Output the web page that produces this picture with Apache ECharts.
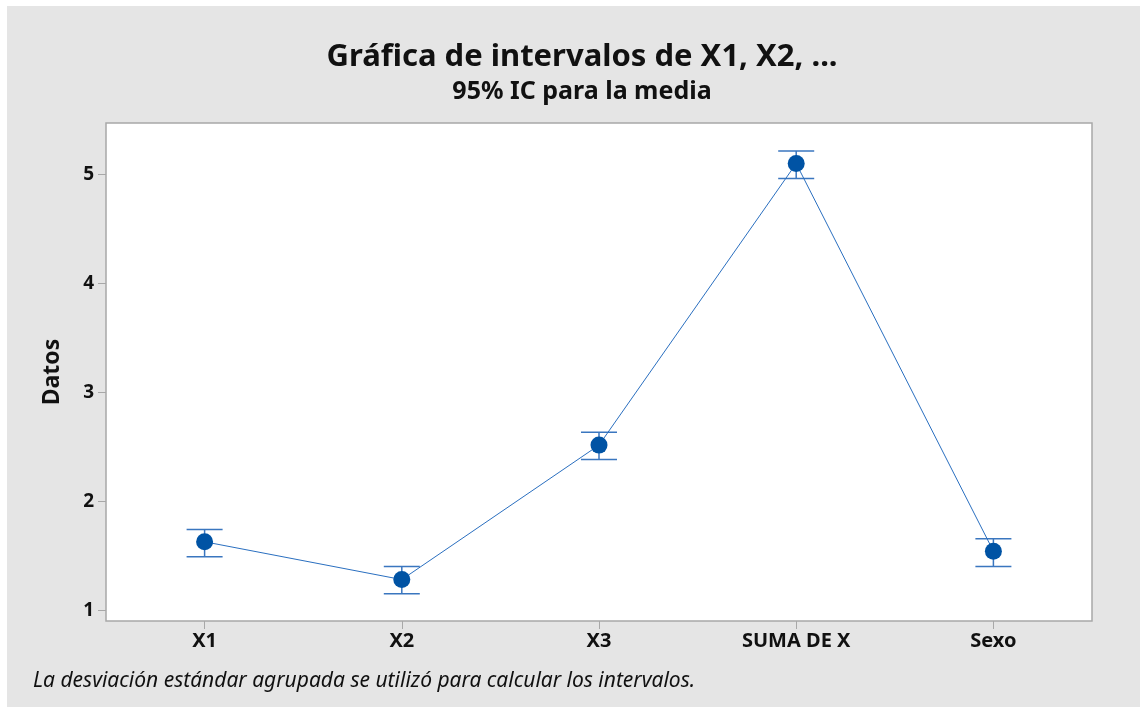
<!DOCTYPE html>
<html>
<head>
<meta charset="utf-8">
<script src="https://cdn.jsdelivr.net/npm/echarts@6/dist/echarts.min.js"></script>
<style>
  html, body { margin: 0; padding: 0; background: #fff; }
  #chart { width: 1140px; height: 707px; }
</style>
</head>
<body>
<div id="chart"></div>
<script>
const categories = ['X1', 'X2', 'X3', 'SUMA DE X', 'Sexo'];
const means = [1.627, 1.28, 2.514, 5.098, 1.541];
const lower = [1.489, 1.15, 2.383, 4.96, 1.40];
const upper = [1.74, 1.40, 2.633, 5.214, 1.654];
const yTicks = [1, 2, 3, 4, 5];

const font = '"Noto Sans", sans-serif';

const intervals = categories.map((c, i) => [i, lower[i], upper[i]]);

echarts.init(document.querySelector('#chart')).setOption({
    backgroundColor: '#ffffff',
    animation: false,
    graphic: [
        {
            type: 'rect',
            z: -10,
            shape: { x: 7, y: 6, width: 1140, height: 707 },
            style: { fill: '#e5e5e5' }
        },
        {
            type: 'text',
            left: 33,
            top: 671,
            style: {
                text: 'La desviación estándar agrupada se utilizó para calcular los intervalos.',
                font: 'italic 21px ' + font,
                fill: '#111'
            }
        }
    ],
    title: [
        {
            text: 'Gráfica de intervalos de X1, X2, ...',
            left: 577,
            top: 37,
            textAlign: 'center',
            textStyle: { fontFamily: font, fontWeight: 'bold', fontSize: 31, color: '#111' }
        },
        {
            text: '95% IC para la media',
            left: 577,
            top: 74,
            textAlign: 'center',
            textStyle: { fontFamily: font, fontWeight: 'bold', fontSize: 25, color: '#111' }
        }
    ],
    grid: {
        left: 106,
        top: 123,
        right: 48,
        bottom: 86,
        show: true,
        backgroundColor: '#ffffff',
        borderColor: '#a8a8a8',
        borderWidth: 1.5
    },
    xAxis: {
        type: 'category',
        data: categories,
        boundaryGap: true,
        axisLine: { show: false },
        axisTick: { show: true, alignWithLabel: true, length: 8, inside: false, lineStyle: { color: '#a8a8a8' } },
        axisLabel: { fontFamily: font, fontWeight: 'bold', fontSize: 20, color: '#111', margin: 10 },
        splitLine: { show: false }
    },
    yAxis: {
        type: 'value',
        min: 0.9,
        max: 5.47,
        name: 'Datos',
        nameLocation: 'middle',
        nameGap: 42,
        nameTextStyle: { fontFamily: font, fontWeight: 'bold', fontSize: 23, color: '#111' },
        axisLine: { show: false },
        axisTick: { show: true, length: 8, customValues: yTicks, lineStyle: { color: '#a8a8a8' } },
        axisLabel: { fontFamily: font, fontWeight: 'bold', fontSize: 19, color: '#111', margin: 12, customValues: yTicks },
        splitLine: { show: false }
    },
    series: [
        {
            type: 'custom',
            data: intervals,
            z: 3,
            renderItem: function (params, api) {
                const lo = api.coord([api.value(0), api.value(1)]);
                const hi = api.coord([api.value(0), api.value(2)]);
                const hw = 18;
                const st = { stroke: '#3a76bf', lineWidth: 1.5 };
                return {
                    type: 'group',
                    children: [
                        { type: 'line', shape: { x1: lo[0], y1: lo[1], x2: hi[0], y2: hi[1] }, style: st },
                        { type: 'line', shape: { x1: lo[0] - hw, y1: lo[1], x2: lo[0] + hw, y2: lo[1] }, style: st },
                        { type: 'line', shape: { x1: hi[0] - hw, y1: hi[1], x2: hi[0] + hw, y2: hi[1] }, style: st }
                    ]
                };
            }
        },
        {
            type: 'line',
            data: means,
            z: 4,
            symbol: 'circle',
            symbolSize: 17,
            lineStyle: { color: '#2a6fc0', width: 1 },
            itemStyle: { color: '#0053a4' }
        }
    ]
});
</script>
</body>
</html>
